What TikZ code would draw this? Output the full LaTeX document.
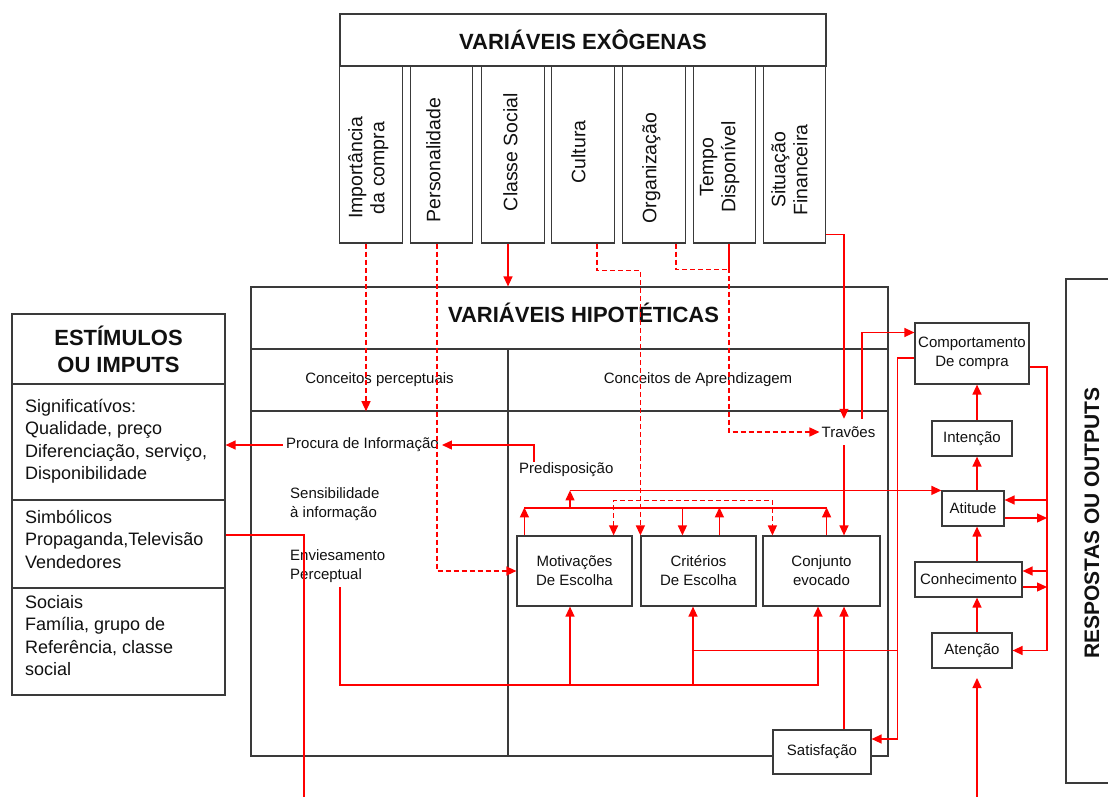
\documentclass[tikz,border=0pt]{standalone}
\usepackage{fontspec}
\setmainfont{Liberation Sans}
\usepackage{graphicx}
\usetikzlibrary{arrows.meta,positioning,calc}
\definecolor{cRed}{HTML}{FF0000}
\definecolor{cEdge}{HTML}{3A3A3A}
\definecolor{cInk}{HTML}{111111}
\newcommand{\fTtl}{\fontsize{22}{27}\selectfont\bfseries}
\newcommand{\fCol}{\fontsize{19.5}{22}\selectfont}
\newcommand{\fTxt}{\fontsize{18}{22.5}\selectfont}
\newcommand{\fLbl}{\fontsize{15}{19}\selectfont}
\newcommand{\vtxt}[1]{\rotatebox{90}{\begin{tabular}{@{}c@{}}#1\end{tabular}}}
\tikzset{
  panel/.style={draw=cEdge,line width=1.2pt,fill=white,inner sep=0pt},
  col/.style={panel,minimum width=62.5pt,minimum height=177pt},
  coltxt/.style={font=\fCol,text=cInk,inner sep=0pt},
  box/.style={panel,align=center,font=\fLbl,text=cInk},
  ttl/.style={font=\fTtl,text=cInk,align=center},
  lbl/.style={font=\fLbl,text=cInk,inner sep=0pt,align=left},
  txt/.style={font=\fTxt,text=cInk,align=left,inner sep=0pt,anchor=north west},
  divider/.style={draw=cEdge,line width=1.2pt},
  ln/.style={draw=cRed,line width=1.3pt},
  arr/.style={ln,-{Triangle[length=10pt,width=9pt]}},
  darr/.style={ln,{Triangle[length=10pt,width=9pt]}-{Triangle[length=10pt,width=9pt]}},
  dsh/.style={dash pattern=on 5pt off 3pt},
}

\begin{document}
\begin{tikzpicture}[x=1pt,y=-1pt]
  \useasboundingbox (0,0) rectangle (1108,797);
  % exogenas
  \node[panel,ttl,minimum width=486pt,minimum height=52pt] (exo) at (583,40) {VARIÁVEIS EXÔGENAS};
  \node[col] (imp) at (371,154.5) {};
  \node[col] (per) at (441.5,154.5) {};
  \node[col] (cla) at (513,154.5) {};
  \node[col] (cul) at (583,154.5) {};
  \node[col] (org) at (654,154.5) {};
  \node[col] (tem) at (724.5,154.5) {};
  \node[col] (sit) at (794.5,154.5) {};
  \node[coltxt] (imp-t) at (369,168) {\vtxt{Importância\\da compra}};
  \node[coltxt] (per-t) at (436,160) {\vtxt{Personalidade}};
  \node[coltxt] (cla-t) at (513,152) {\vtxt{Classe Social}};
  \node[coltxt] (cul-t) at (581,152) {\vtxt{Cultura}};
  \node[coltxt] (org-t) at (652,168) {\vtxt{Organização}};
  \node[coltxt] (tem-t) at (720,167) {\vtxt{Tempo\\Disponível}};
  \node[coltxt] (sit-t) at (792,170) {\vtxt{Situação\\Financeira}};

  % estimulos
  \node[panel,minimum width=213pt,minimum height=381pt] (est) at (118.5,504.5) {};
  \node[ttl] (est-t) at (118.5,349) {ESTÍMULOS\\OU IMPUTS};
  \draw[divider] (est.west |- 0,384) -- (est.east |- 0,384);
  \draw[divider] (est.west |- 0,500) -- (est.east |- 0,500);
  \draw[divider] (est.west |- 0,588) -- (est.east |- 0,588);
  \node[txt] (sig) at (25,399) {Significatívos:\\Qualidade, preço\\Diferenciação, serviço,\\Disponibilidade};
  \node[txt] (simb) at (25,510) {Simbólicos\\Propaganda,Televisão\\Vendedores};
  \node[txt] (soc) at (25,595) {Sociais\\Família, grupo de\\Referência, classe\\social};

  % hipoteticas
  \node[panel,minimum width=637pt,minimum height=469pt] (hip) at (569.5,521.5) {};
  \node[font=\fTtl,text=cInk] (hip-t) at (583.5,313) {VARIÁVEIS HIPOTÉTICAS};
  \draw[divider] (hip.west |- 0,349) -- (hip.east |- 0,349);
  \draw[divider] (hip.west |- 0,411) -- (hip.east |- 0,411);
  \draw[divider] (508,349) -- (hip.south -| 508,0);
  \node[lbl,minimum width=257pt,minimum height=62pt] (perc) at (379.5,380) {Conceitos perceptuais};
  \node[lbl,minimum width=380pt,minimum height=62pt] (apre) at (698,380) {Conceitos de Aprendizagem};
  \node[lbl,anchor=west,inner sep=3pt] (proc) at (283,445) {Procura de Informação};
  \node[lbl,anchor=north west] (sens) at (290,487) {Sensibilidade\\à informação};
  \node[lbl,anchor=north west] (envi) at (290,549) {Enviesamento\\Perceptual};
  \node[lbl,anchor=base west] (predisp) at (519,473) {Predisposição};
  \node[lbl,minimum height=26pt,inner sep=2pt] (trav) at (848.5,432) {Travões};
  \node[box,minimum width=115pt,minimum height=70pt] (mot) at (574.5,571) {Motivações\\De Escolha};
  \node[box,minimum width=115pt,minimum height=70pt] (crit) at (698.5,571) {Critérios\\De Escolha};
  \node[box,minimum width=117pt,minimum height=70pt] (conj) at (821.5,571) {Conjunto\\evocado};
  \node[box,minimum width=98pt,minimum height=44pt] (sat) at (822,752) {Satisfação};

  % respostas
  \node[box,minimum width=114pt,minimum height=61pt] (comp) at (972,353.5) {Comportamento\\De compra};
  \node[box,minimum width=80pt,minimum height=35pt] (inte) at (972,438.5) {Intenção};
  \node[box,minimum width=62pt,minimum height=35pt] (atit) at (973,508.5) {Atitude};
  \node[box,minimum width=107pt,minimum height=35pt] (conh) at (968.5,579.5) {Conhecimento};
  \node[box,minimum width=80pt,minimum height=35pt] (aten) at (972,650.5) {Atenção};
  \node[panel,minimum width=70pt,minimum height=504pt] (resp) at (1101,531) {};
  \node[text=cInk,font=\fontsize{21}{25}\selectfont\bfseries,inner sep=0pt] (resp-t) at (1092,523) {\rotatebox{90}{RESPOSTAS OU OUTPUTS}};

  \coordinate (rx) at (977,0);
  \coordinate (fbx) at (1047,0);
  \coordinate (cs) at ($(sat.east)+(26,0)$);
  \coordinate (simb-out) at (304,800);
  \coordinate (aten-in) at (977,800);

  % exogenas -> hipoteticas
  \draw[arr,dsh] ([xshift=-5pt]imp.south) -- ([xshift=-5pt]imp.south |- perc.south);
  \draw[arr,dsh] ([xshift=-4.5pt]per.south) |- (mot.west);
  \draw[arr] ([xshift=-5pt]cla.south) -- ([xshift=-5pt]cla.south |- hip.north);
  \draw[arr,dsh] ([xshift=14pt]cul.south) -- ++(0,27) -| (crit.north west);
  \draw[ln,dsh] ([xshift=22pt]org.south) -- ++(0,26) -| ([xshift=4.5pt]tem.south);
  \draw[arr,dsh] ([xshift=4.5pt]tem.south) |- (trav.west);
  \draw[arr] ([yshift=9pt]sit.south east) -| ([xshift=-4.5pt]trav.north);
  \draw[arr] ([xshift=-4.5pt]trav.south) -- ([xshift=-4.5pt]trav.south |- conj.north);
  \draw[arr] ([xshift=13.5pt]trav.north) |- ([yshift=21pt]comp.west);

  % estimulos
  \draw[arr] ([xshift=15pt]predisp.north west) |- (proc.east);
  \draw[arr] (proc.west) -- (proc.west -| est.east);
  \draw[ln] (est.east |- 0,535) -| (simb-out);

  % aprendizagem
  \draw[ln] ([xshift=8pt]mot.north west |- 0,508) -- ([xshift=-54pt]conj.north east |- 0,508);
  \draw[arr] ([xshift=8pt]mot.north west) -- ++(0,-28);
  \draw[arr] ([xshift=42pt]crit.north west |- 0,508) -- ([xshift=42pt]crit.north west);
  \draw[arr] ([xshift=79pt]crit.north west) -- ++(0,-28);
  \draw[arr] ([xshift=-54pt]conj.north east) -- ++(0,-28);
  \draw[arr] ([xshift=-4.5pt]mot.north |- 0,508) -- ([xshift=-4.5pt]mot.north |- atit.north);
  \draw[arr] ([xshift=-4.5pt]mot.north |- atit.north) -- (atit.north west);
  \draw[darr,dsh] ([xshift=-19pt]mot.north east) -- ++(0,-35) -| ([xshift=10pt]conj.north west);
  \draw[arr] ([xshift=50pt,yshift=-5pt]envi.south west) |- ([xshift=-3.5pt]conj.south |- 0,685) -- ([xshift=-3.5pt]conj.south);
  \draw[arr] ([xshift=-4.5pt]mot.south |- 0,685) -- ([xshift=-4.5pt]mot.south);
  \draw[arr] ([xshift=-5.5pt]crit.south |- 0,685) -- ([xshift=-5.5pt]crit.south);
  \draw[ln] ([xshift=-5.5pt]crit.south |- aten.west) -- (aten.west -| cs);
  \draw[arr] ([xshift=22pt]sat.north) -- ([xshift=22pt]sat.north |- conj.south);
  \draw[arr] ([yshift=-4.5pt]comp.west) -| ([yshift=13pt]sat.east -| cs) -- ([yshift=13pt]sat.east);

  % respostas
  \draw[arr] (inte.north -| rx) -- (comp.south -| rx);
  \draw[arr] (atit.north -| rx) -- (inte.south -| rx);
  \draw[arr] (conh.north -| rx) -- (atit.south -| rx);
  \draw[arr] (aten.north -| rx) -- (conh.south -| rx);
  \draw[arr] (aten-in) -- ++(0,-122);
  \draw[arr] ([yshift=-13.5pt]comp.east) -| (aten.east -| fbx) -- (aten.east);
  \draw[arr] ([yshift=8.5pt]atit.east -| fbx) -- ([yshift=8.5pt]atit.east);
  \draw[arr] ([yshift=-9.5pt]atit.east) -- ([yshift=-9.5pt]atit.east -| fbx);
  \draw[arr] ([yshift=8.5pt]conh.east -| fbx) -- ([yshift=8.5pt]conh.east);
  \draw[arr] ([yshift=-7.5pt]conh.east) -- ([yshift=-7.5pt]conh.east -| fbx);
\end{tikzpicture}
\end{document}
